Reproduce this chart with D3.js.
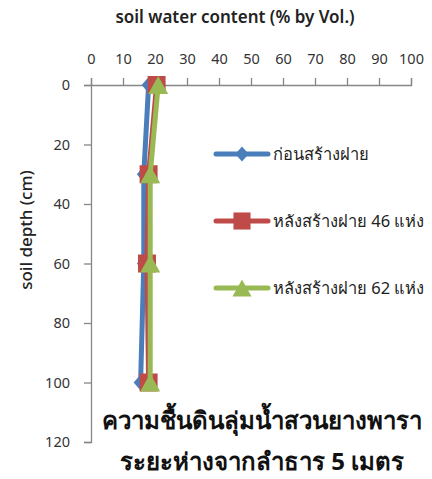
<!DOCTYPE html>
<html><head><meta charset="utf-8">
<script src="https://cdn.jsdelivr.net/npm/d3@7"></script>
<style>body{margin:0;background:#fff;} svg{display:block;font-family:"Noto Sans","DejaVu Sans",sans-serif;}</style>
</head><body>
<svg id="c" width="432" height="479"></svg>
<script>
const depths = [0, 30, 60, 100];
const seriesNames = ["ก่อนสร้างฝาย", "หลังสร้างฝาย 46 แห่ง", "หลังสร้างฝาย 62 แห่ง"];
const beforeValues = [18, 16.5, 16.5, 15.5];
const after46Values = [20.5, 18, 17.5, 18];
const after62Values = [21, 18.5, 18.5, 18.5];
const xTicks = [0,10,20,30,40,50,60,70,80,90,100];
const yTicks = [0,20,40,60,80,100,120];
const colors = ["#4a7ebb", "#be4b48", "#98b954"];
const titleLines = ["ความชื้นดินลุ่มน้ำสวนยางพารา", "ระยะห่างจากลำธาร 5 เมตร"];

const svg = d3.select("#c");
const x = d3.scaleLinear().domain([0,100]).range([91,411]);
const y = d3.scaleLinear().domain([0,120]).range([85,442]);

const xAxis = svg.append("g").attr("transform","translate(0,85)")
  .call(d3.axisTop(x).tickValues(xTicks).tickSize(7).tickPadding(14));
const yAxis = svg.append("g").attr("transform","translate(91,0)")
  .call(d3.axisLeft(y).tickValues(yTicks).tickSize(7).tickPadding(14));
[xAxis,yAxis].forEach(a=>{
  a.selectAll("path,line").attr("stroke","#868686").attr("stroke-width",1.3);
  a.selectAll("text").attr("fill","#333").style("font-size","14.5px").style("font-family","Noto Sans, sans-serif");
});

svg.append("text").attr("x",235).attr("y",23).attr("text-anchor","middle")
  .style("font-size","17px").style("font-weight","600").attr("fill","#222")
  .text("soil water content (% by Vol.)");
svg.append("text").attr("transform","translate(32,230) rotate(-90)").attr("text-anchor","middle")
  .style("font-size","17px").style("font-weight","500").attr("fill","#222")
  .text("soil depth (cm)");

// marker shapes
function marker(i){
  if(i===0) return "M0,-8L7,0L0,8L-7,0Z";
  if(i===1) return "M-9,-9H9V9H-9Z";
  return "M0,-9L10,9H-10Z";
}

const data = [beforeValues, after46Values, after62Values];
const line = d3.line().x(d=>x(d.v)).y(d=>y(d.d));
data.forEach((vals,i)=>{
  const pts = vals.map((v,j)=>({v, d:depths[j]}));
  svg.append("path").datum(pts).attr("d",line).attr("fill","none")
    .attr("stroke",colors[i]).attr("stroke-width",5).attr("stroke-linejoin","round");
  svg.selectAll(null).data(pts).enter().append("path")
    .attr("d",marker(i))
    .attr("transform",d=>`translate(${x(d.v)},${y(d.d)})`)
    .attr("fill",colors[i]);
});

const legY = [154, 221, 288];
seriesNames.forEach((n,i)=>{
  const g = svg.append("g").attr("transform",`translate(0,${legY[i]})`);
  g.append("line").attr("x1",216).attr("x2",268).attr("stroke",colors[i]).attr("stroke-width",5).attr("stroke-linecap","round");
  g.append("path").attr("d",marker(i)).attr("transform",`translate(242,0) scale(0.95)`).attr("fill",colors[i]);
  g.append("text").attr("x",273).attr("y",6).style("font-size","16.5px").attr("fill","#222").text(n);
});

titleLines.forEach((t,i)=>{
  svg.append("text").attr("x",262).attr("y",429+i*41).attr("text-anchor","middle")
    .style("font-size","24px").style("font-weight","bold").attr("fill","#111").text(t);
});
</script>
</body></html>
